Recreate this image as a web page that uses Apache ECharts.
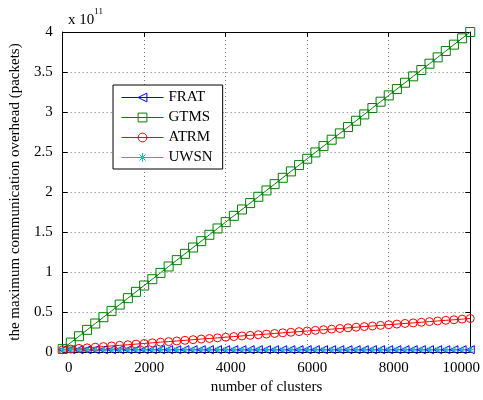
<!DOCTYPE html>
<html>
<head>
<meta charset="utf-8">
<script src="https://cdn.jsdelivr.net/npm/echarts@6/dist/echarts.min.js"></script>
<style>
  html, body { margin: 0; padding: 0; background: #fff; }
  #chart { width: 483px; height: 400px; }
</style>
</head>
<body>
<div id="chart"></div>
<script>
// Number of clusters (x axis)
const clusters = [0,200,400,600,800,1000,1200,1400,1600,1800,2000,2200,2400,2600,2800,3000,3200,3400,3600,3800,4000,4200,4400,4600,4800,5000,5200,5400,5600,5800,6000,6200,6400,6600,6800,7000,7200,7400,7600,7800,8000,8200,8400,8600,8800,9000,9200,9400,9600,9800,10000];

// Maximum communication overhead, in units of 10^11 packets
const frat = [0.030,0.030,0.030,0.030,0.030,0.030,0.030,0.030,0.030,0.030,0.030,0.030,0.030,0.030,0.030,0.030,0.030,0.030,0.030,0.030,0.030,0.030,0.030,0.030,0.030,0.030,0.030,0.030,0.030,0.030,0.030,0.030,0.030,0.030,0.030,0.030,0.030,0.030,0.030,0.030,0.030,0.030,0.030,0.030,0.030,0.030,0.030,0.030,0.030,0.030,0.030];
const gtms = [0.040,0.119,0.198,0.278,0.357,0.436,0.515,0.594,0.674,0.753,0.832,0.911,0.990,1.070,1.149,1.228,1.307,1.386,1.466,1.545,1.624,1.703,1.782,1.862,1.941,2.020,2.099,2.178,2.258,2.337,2.416,2.495,2.574,2.654,2.733,2.812,2.891,2.970,3.050,3.129,3.208,3.287,3.366,3.446,3.525,3.604,3.683,3.762,3.842,3.921,4.000];
const atrm = [0.030,0.038,0.046,0.053,0.061,0.069,0.077,0.085,0.092,0.100,0.108,0.116,0.124,0.131,0.139,0.147,0.155,0.163,0.170,0.178,0.186,0.194,0.202,0.209,0.217,0.225,0.233,0.241,0.248,0.256,0.264,0.272,0.280,0.287,0.295,0.303,0.311,0.319,0.326,0.334,0.342,0.350,0.358,0.365,0.373,0.381,0.389,0.397,0.404,0.412,0.420];
const uwsn = [0.030,0.030,0.030,0.030,0.030,0.030,0.030,0.030,0.030,0.030,0.030,0.030,0.030,0.030,0.030,0.030,0.030,0.030,0.030,0.030,0.030,0.030,0.030,0.030,0.030,0.030,0.030,0.030,0.030,0.030,0.030,0.030,0.030,0.030,0.030,0.030,0.030,0.030,0.030,0.030,0.030,0.030,0.030,0.030,0.030,0.030,0.030,0.030,0.030,0.030,0.030];

const FONT = '"Liberation Serif", "DejaVu Serif", serif';
const FS = 15;

function pairs(ys) { return clusters.map((x, i) => [x, ys[i]]); }

function lineSeries(name, ys, color, symbol, size) {
  return {
    name: name,
    type: 'line',
    data: pairs(ys),
    symbol: symbol,
    symbolSize: size,
    showAllSymbol: true,
    clip: false,
    animation: false,
    lineStyle: { color: color, width: 1 },
    itemStyle: { color: 'rgba(0,0,0,0)', borderColor: color, borderWidth: 1 },
    emphasis: { disabled: true }
  };
}

const frameAxisLine = { show: true, onZero: false, lineStyle: { color: '#000', width: 1 } };
const innerTicks = { show: true, inside: true, length: 5, lineStyle: { color: '#000' } };
const dotted = { show: true, lineStyle: { color: '#777', type: [1, 3], width: 1 } };

const chart = echarts.init(document.getElementById('chart'), null, { renderer: 'canvas' });
chart.setOption({
  backgroundColor: '#fff',
  animation: false,
  grid: { left: 60, right: 8, top: 32, bottom: 41 },
  xAxis: [{
    type: 'value', min: 0, max: 10000, interval: 2000,
    position: 'bottom',
    axisLine: frameAxisLine, axisTick: innerTicks, splitLine: dotted,
    axisLabel: {
      margin: 8, color: '#000', fontFamily: FONT, fontSize: FS,
      formatter: v => v === 0 ? '{s|0}' : (v === 10000 ? '{e|10000}' : '{m|' + v + '}'),
      rich: {
        s: { fontFamily: FONT, fontSize: FS, color: '#000', padding: [0, 0, 0, 12] },
        m: { fontFamily: FONT, fontSize: FS, color: '#000', padding: [0, 0, 0, 10] },
        e: { fontFamily: FONT, fontSize: FS, color: '#000', padding: [0, 18, 0, 0] }
      }
    },
    name: 'number of clusters', nameLocation: 'middle', nameGap: 22,
    nameTextStyle: { color: '#000', fontFamily: FONT, fontSize: FS }
  }, {
    type: 'value', min: 0, max: 10000, interval: 2000,
    position: 'top',
    axisLine: frameAxisLine, axisTick: innerTicks, splitLine: { show: false },
    axisLabel: { show: false }
  }],
  yAxis: [{
    type: 'value', min: 0, max: 4, interval: 0.5,
    position: 'left',
    axisLine: frameAxisLine, axisTick: innerTicks, splitLine: dotted,
    axisLabel: { margin: 10, color: '#000', fontFamily: FONT, fontSize: FS },
    name: 'the maximum communication overhead (packets)',
    nameLocation: 'middle', nameGap: 33, nameRotate: 90,
    nameTextStyle: { color: '#000', fontFamily: FONT, fontSize: FS }
  }, {
    type: 'value', min: 0, max: 4, interval: 0.5,
    position: 'right',
    axisLine: frameAxisLine, axisTick: innerTicks, splitLine: { show: false },
    axisLabel: { show: false }
  }],
  legend: {
    orient: 'vertical', left: 113, top: 85,
    backgroundColor: '#fff',
    borderColor: '#000', borderWidth: 1,
    padding: [5, 10, 4, 8],
    itemWidth: 42, itemHeight: 11, itemGap: 5,
    lineStyle: { width: 1 },
    itemStyle: { borderWidth: 1 },
    textStyle: { color: '#000', fontFamily: FONT, fontSize: FS },
    selectedMode: false,
    data: ['FRAT', 'GTMS', 'ATRM', 'UWSN']
  },
  graphic: [{
    type: 'text', left: 68, top: 7,
    style: {
      text: '{b|x 10}{s|11}',
      rich: {
        b: { fontFamily: FONT, fontSize: FS, fill: '#000', verticalAlign: 'bottom', padding: [6, 0, 0, 0] },
        s: { fontFamily: FONT, fontSize: 9, fill: '#000', verticalAlign: 'top' }
      }
    }
  }],
  series: [
    lineSeries('FRAT', frat, '#0000ff', 'path://M0,5L10,0L10,10Z', 8),
    lineSeries('GTMS', gtms, '#008000', 'rect', 9),
    lineSeries('ATRM', atrm, '#ff0000', 'circle', 8),
    lineSeries('UWSN', uwsn, '#00bfbf', 'path://M5,0L5,10M0,5L10,5M1.5,1.5L8.5,8.5M8.5,1.5L1.5,8.5', 6)
  ]
});
</script>
</body>
</html>
